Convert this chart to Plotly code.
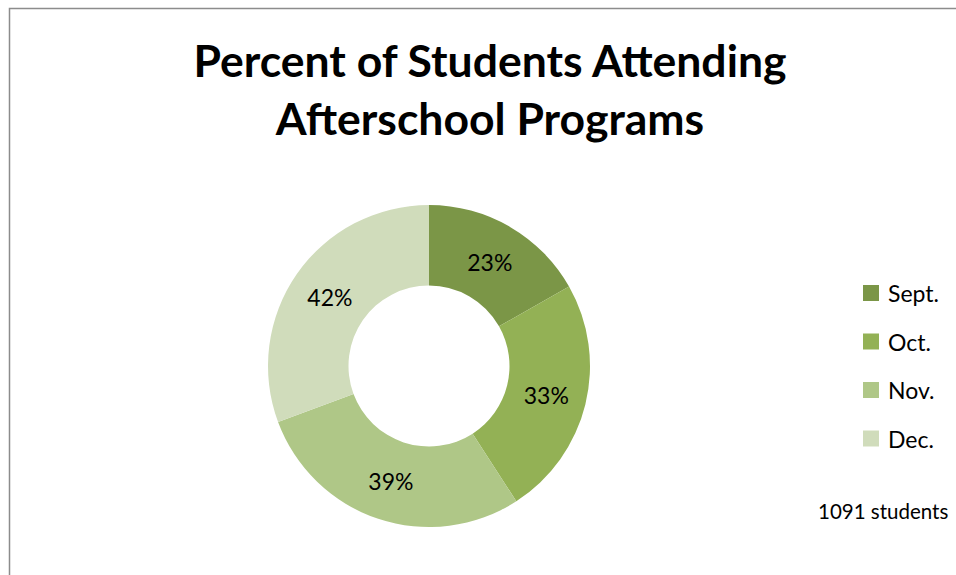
import plotly.graph_objects as go

months = ["Sept.", "Oct.", "Nov.", "Dec."]
percent_attending = [23, 33, 39, 42]
slice_colors = ["#7B9647", "#93B155", "#AFC787", "#D0DCBB"]
title_lines = ["Percent of Students Attending", "Afterschool Programs"]
note_text = "1091 students"

W, H = 956, 575
FONT = "Lato"

fig = go.Figure()
fig.add_trace(go.Pie(
    labels=months,
    values=percent_attending,
    sort=False,
    direction="clockwise",
    rotation=0,
    hole=0.5,
    marker=dict(colors=slice_colors, line=dict(width=0)),
    texttemplate="%{value}%",
    textposition="inside",
    insidetextorientation="horizontal",
    textfont=dict(family=FONT, size=23, color="#000000"),
    showlegend=False,
    domain=dict(x=[(429 - 161) / W, (429 + 161) / W],
                y=[(H - 527) / H, (H - 205) / H]),
))

shapes = [dict(type="rect", xref="paper", yref="paper",
               x0=9.5 / W, x1=1.2, y0=-0.2, y1=1 - 8.5 / H,
               line=dict(color="#8C8C8C", width=1.5), fillcolor="rgba(0,0,0,0)")]
annotations = []

# custom legend built from the month labels and colours
for i, (m, c) in enumerate(zip(months, slice_colors)):
    yc = 293 + i * 48.5
    shapes.append(dict(type="rect", xref="paper", yref="paper",
                       x0=863 / W, x1=879 / W,
                       y0=1 - (yc + 8) / H, y1=1 - (yc - 8) / H,
                       line=dict(width=0), fillcolor=c))
    annotations.append(dict(xref="paper", yref="paper", x=886 / W, y=1 - yc / H,
                            xanchor="left", yanchor="middle", showarrow=False,
                            text=m, font=dict(family=FONT, size=23, color="#000000")))

annotations.append(dict(xref="paper", yref="paper", x=950 / W, y=1 - 511 / H,
                        xanchor="right", yanchor="middle", showarrow=False,
                        text=note_text, font=dict(family=FONT, size=20.5, color="#000000")))

fig.update_layout(
    width=W, height=H,
    margin=dict(l=0, r=0, t=0, b=0),
    paper_bgcolor="white",
    plot_bgcolor="white",
    title=dict(text="<b>" + "<br>".join(title_lines) + "</b>",
               x=490 / W, xanchor="center", y=1 - 77 / H, yanchor="middle",
               font=dict(family=FONT, size=44.5, color="#000000")),
    shapes=shapes,
    annotations=annotations,
)

fig.write_html("out.html",
               config={"displayModeBar": False},
               post_script="document.body.style.margin='0';document.body.style.padding='0';")
